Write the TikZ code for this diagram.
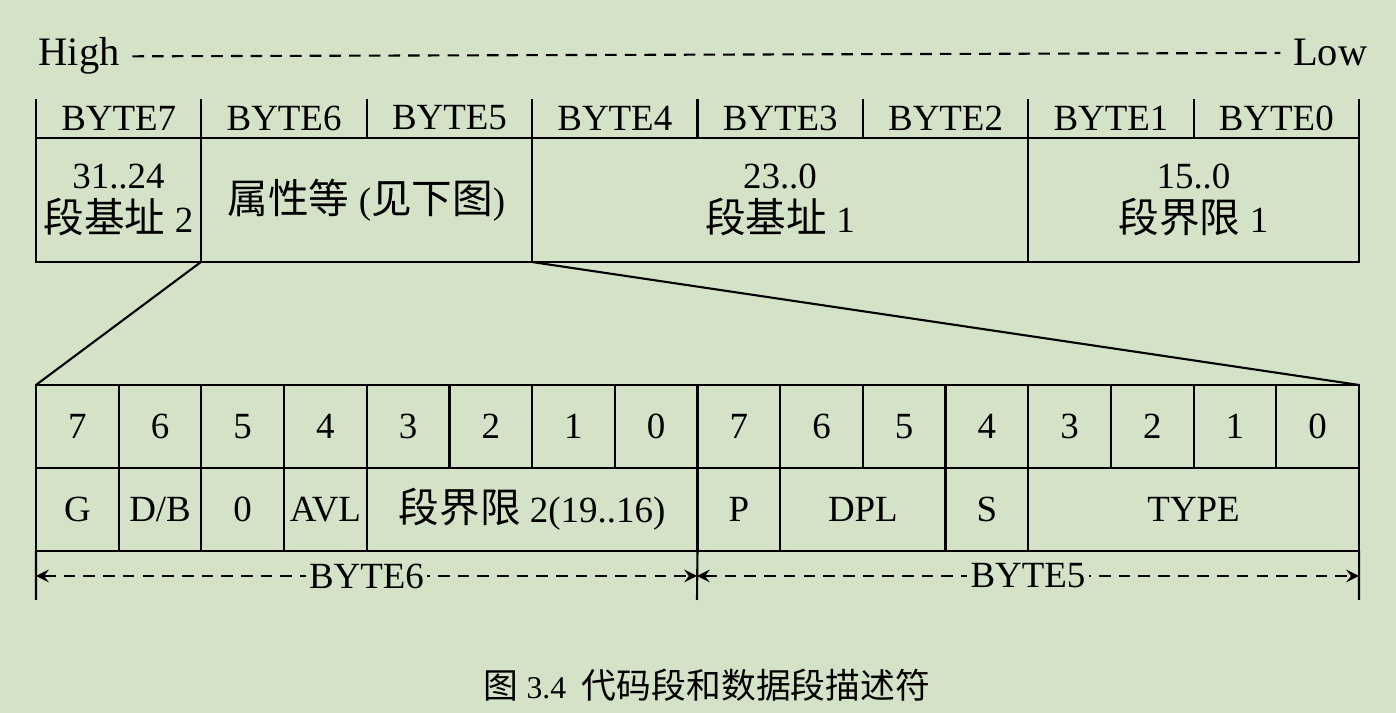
\documentclass[tikz,border=0pt]{standalone}
\usepackage{fontspec}
\setmainfont{Liberation Serif}
\newfontfamily\cjk[Scale=1.1]{Noto Sans CJK SC}
\newcommand\zh[1]{{\cjk #1}}
\definecolor{bg}{RGB}{212,227,200}

\begin{document}
\begin{tikzpicture}[>=stealth, x=0.01cm, y=-0.01cm, line width=0.6pt,
  font=\fontsize{10.5}{12.6}\selectfont,
  cell/.style={draw, rectangle, inner sep=0pt, outer sep=0pt, align=center},
  dashline/.style={dashed, dash pattern=on 3.3pt off 2.3pt}]
\fill[bg] (0,0) rectangle (1396,713);

% high / low
\node[anchor=base west, font=\fontsize{11.5}{13}\selectfont] (high) at (26,66) {High};
\node[anchor=base east, font=\fontsize{11.5}{13}\selectfont] (low) at (1380,66) {Low};
\draw[dashline] (high.east) -- (low.west);

% byte header
\foreach \k in {0,...,7}
  \node (byte\k) at ({36+(7-\k+0.5)*165.375},118) {BYTE\k};
\foreach \k in {0,...,8}
  \draw (36+\k*165.375,99) -- (36+\k*165.375,138);

% descriptor
\node[cell, minimum width=1.654cm, minimum height=1.24cm] (base2) at (118.5,200) {31..24\\\zh{段基址} 2};
\node[cell, minimum width=3.31cm, minimum height=1.24cm] (attr) at (366.5,200) {\zh{属性等} (\zh{见下图})};
\node[cell, minimum width=4.96cm, minimum height=1.24cm] (base1) at (780,200) {23..0\\\zh{段基址} 1};
\node[cell, minimum width=3.31cm, minimum height=1.24cm] (limit1) at (1193.5,200) {15..0\\\zh{段界限} 1};

% bits
\foreach \i [evaluate=\i as \n using {int(7-mod(\i,8))}] in {0,...,15}
  \node[cell, minimum width=0.826875cm, minimum height=0.83cm] (bit\i) at ({36+(\i+0.5)*82.6875},426.5) {\n};

% fields
\foreach \name/\from/\len/\txt in {g/0/1/G, db/1/1/{D/B}, zero/2/1/0, avl/3/1/AVL,
    limit2/4/4/{\zh{段界限} 2(19..16)}, p/8/1/P, dpl/9/2/DPL, s/11/1/S, type/12/4/TYPE}
  \node[cell, minimum width=\len*0.826875cm, minimum height=0.83cm] (\name) at ({36+(\from+\len/2)*82.6875},509.5) {\txt};

\draw (attr.south west) -- (bit0.north west);
\draw (attr.south east) -- (bit15.north east);

% byte spans
\coordinate (l6) at (36,576);
\coordinate (r6) at (697,576);
\coordinate (r5) at (1359,576);
\draw (g.south west) -- (36,600);
\draw (p.south west) -- (697,600);
\draw (type.south east) -- (1359,600);
\draw[<->, dashline] (l6) -- (r6) node[midway, fill=bg, inner sep=1pt] (byte6lbl) {BYTE6};
\draw[<->, dashline] (r6) -- (r5) node[midway, fill=bg, inner sep=1pt] (byte5lbl) {BYTE5};

\node[font=\fontsize{9}{12}\selectfont] (caption) at (707,685) {\zh{图} 3.4\ \ \zh{代码段和数据段描述符}};
\end{tikzpicture}
\end{document}
